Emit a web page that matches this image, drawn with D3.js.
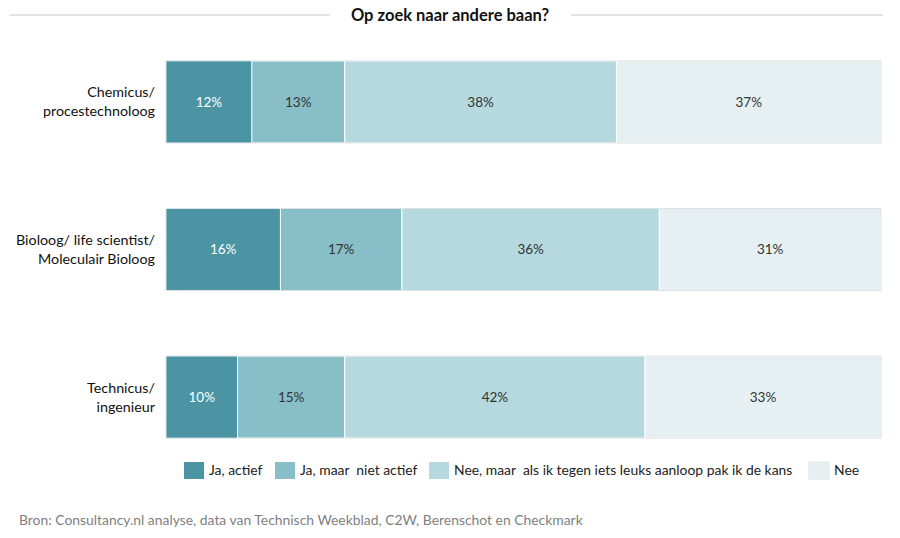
<!DOCTYPE html>
<html>
<head>
<meta charset="utf-8">
<script src="https://cdn.jsdelivr.net/npm/d3@7"></script>
<style>
  body { margin: 0; background: #fff; }
  text { font-family: Lato, "Open Sans", sans-serif; }
</style>
</head>
<body>
<div id="chart"></div>
<script>
// categories (each label split in lines)
const categories = [
  ["Chemicus/", "procestechnoloog"],
  ["Bioloog/ life scientist/", "Moleculair Bioloog"],
  ["Technicus/", "ingenieur"]
];
const seriesNames = ["Ja, actief", "Ja, maar  niet actief", "Nee, maar  als ik tegen iets leuks aanloop pak ik de kans", "Nee"];
const jaActief = [12, 16, 10];
const jaNietActief = [13, 17, 15];
const neeMaar = [38, 36, 42];
const nee = [37, 31, 33];
const colors = ["#4a94a4", "#87bec8", "#b5d9df", "#e6f0f2"];

const W = 900, H = 538;
const margin = {top: 0, right: 19, left: 166};
const width = W - margin.left - margin.right;

const svg = d3.select("#chart").append("svg")
    .attr("width", W)
    .attr("height", H);

// title with side lines
svg.append("line").attr("x1", 10).attr("x2", 330).attr("y1", 15).attr("y2", 15)
    .attr("stroke", "#c8c8c8").attr("stroke-width", 1);
svg.append("line").attr("x1", 571).attr("x2", 883).attr("y1", 15).attr("y2", 15)
    .attr("stroke", "#c8c8c8").attr("stroke-width", 1);
svg.append("text")
    .attr("x", 450).attr("y", 21)
    .attr("text-anchor", "middle")
    .attr("font-size", 16.5).attr("font-weight", "bold")
    .attr("fill", "#111")
    .text("Op zoek naar andere baan?");

const g = svg.append("g").attr("transform", `translate(${margin.left},${margin.top})`);

const rows = categories.map((c, i) => ({
  idx: i,
  values: [jaActief[i], jaNietActief[i], neeMaar[i], nee[i]]
}));

const xScale = d3.scaleLinear().domain([0, 100]).range([0, width]);
const yScale = d3.scaleBand().domain(d3.range(categories.length))
    .range([24, 475]).paddingInner(0.444).paddingOuter(0.25);

// stacked segments
rows.forEach(r => {
  let acc = 0;
  const segs = r.values.map((v, k) => { const s = {k, v, x0: acc}; acc += v; return s; });
  const rowG = g.append("g").attr("transform", `translate(0,${yScale(r.idx)})`);
  rowG.selectAll("rect")
    .data(segs)
    .join("rect")
    .attr("x", d => xScale(d.x0))
    .attr("width", d => xScale(d.v))
    .attr("y", 0)
    .attr("height", yScale.bandwidth())
    .attr("fill", d => colors[d.k])
    .attr("stroke", d => d.k === 0 ? "none" : "#fff")
    .attr("stroke-width", 1);
  rowG.append("rect")
    .attr("x", 0).attr("y", 0)
    .attr("width", width).attr("height", yScale.bandwidth())
    .attr("fill", "none").attr("stroke", "#dde3e4");
  rowG.selectAll("text.val")
    .data(segs)
    .join("text")
    .attr("class", "val")
    .attr("x", d => xScale(d.x0 + d.v / 2))
    .attr("y", yScale.bandwidth() / 2 + 5)
    .attr("text-anchor", "middle")
    .attr("font-size", 13.5)
    .attr("fill", d => d.k === 0 ? "#fff" : "#333")
    .text(d => d.v + "%");
});

// category labels
categories.forEach((lines, i) => {
  const cy = yScale(i) + yScale.bandwidth() / 2;
  const t = g.append("text")
    .attr("text-anchor", "end")
    .attr("font-size", 14.3)
    .attr("fill", "#111");
  lines.forEach((ln, j) => {
    t.append("tspan")
      .attr("x", -11)
      .attr("y", cy + (j - (lines.length - 1) / 2) * 19 + 5)
      .text(ln);
  });
});

// legend
const legendX = [184, 275, 429, 809];
const legend = svg.append("g").attr("transform", "translate(0,462)");
seriesNames.forEach((name, k) => {
  legend.append("rect")
    .attr("x", legendX[k]).attr("y", 0)
    .attr("width", 20).attr("height", 17)
    .attr("fill", colors[k])
    .attr("stroke", k === 3 ? "#e0e6e7" : "none");
  legend.append("text")
    .attr("x", legendX[k] + 25).attr("y", 13)
    .attr("font-size", 13.9)
    .attr("fill", "#222")
    .attr("xml:space", "preserve")
    .text(name);
});

// source
svg.append("text")
    .attr("x", 19).attr("y", 525)
    .attr("font-size", 13.9)
    .attr("fill", "#7f7f7f")
    .text("Bron: Consultancy.nl analyse, data van Technisch Weekblad, C2W,  Berenschot en Checkmark");
</script>
</body>
</html>
